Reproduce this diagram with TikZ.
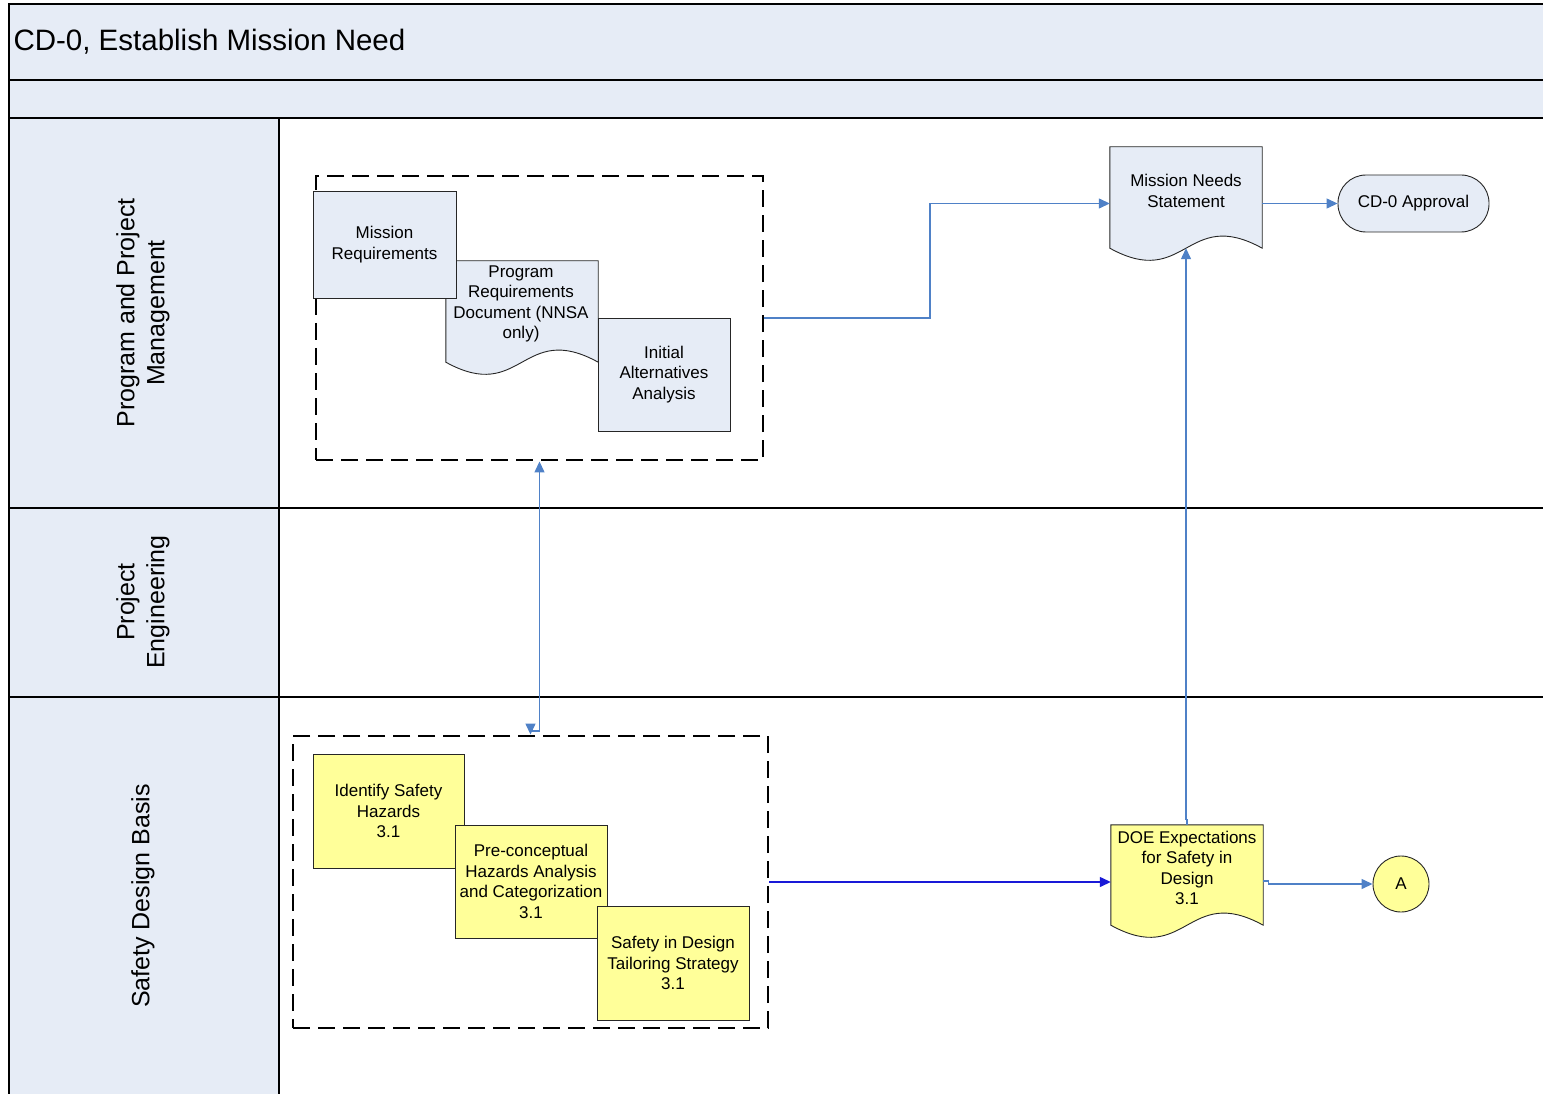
\documentclass[tikz,border=0pt]{standalone}
\usepackage{fontspec}
\setmainfont{Liberation Sans}
\usetikzlibrary{arrows.meta,calc}
\definecolor{lblue}{RGB}{230,236,246}
\definecolor{lyel}{RGB}{255,255,153}
\definecolor{cblue}{RGB}{79,129,199}
\definecolor{dblue}{RGB}{25,25,215}
\begin{document}
\begin{tikzpicture}[x=1pt,y=-1pt,
  boxtext/.style={font=\fontsize{17}{20.5}\selectfont, align=center},
  pbox/.style={draw=black!85, fill=lblue, line width=0.9pt, inner sep=0pt, boxtext},
  ybox/.style={draw=black!85, fill=lyel, line width=0.9pt, inner sep=0pt, boxtext},
  ghost/.style={draw=none, inner sep=0pt},
  docp/.style={draw=black!85, fill=lblue, line width=0.9pt},
  docy/.style={draw=black!85, fill=lyel, line width=0.9pt},
  grp/.style={draw=black, line width=2.9pt, dash pattern=on 17pt off 8pt, inner sep=0pt},
  conn/.style={draw=cblue, line width=1.3pt, -{Triangle[length=11pt,width=10pt]}},
  lane/.style={draw=black, line width=1.1pt},
  lanelabel/.style={font=\fontsize{25}{30}\selectfont, align=center, rotate=90}]

\useasboundingbox (0,0) rectangle (1543,1094);
% swimlane frame
\fill[lblue] (9,4) rectangle (1543,118);
\fill[lblue] (9,118) rectangle (279,1094);
\draw[lane] (9,1094) -- (9,4) -- (1543,4);
\draw[lane] (9,80) -- (1543,80);
\draw[lane] (9,118) -- (1543,118);
\draw[lane] (9,508) -- (1543,508);
\draw[lane] (9,697) -- (1543,697);
\draw[lane] (279,118) -- (279,1094);

\node[anchor=west, font=\fontsize{29.5}{34}\selectfont] (title) at (10,42) {CD-0, Establish Mission Need};

\node[lanelabel] (lane1) at (143,313) {Program and Project\\Management};
\node[lanelabel] (lane2) at (143,602) {Project\\Engineering};
\node[lanelabel] (lane3) at (143,896) {Safety Design Basis};

% top group
\node[grp, minimum width=447, minimum height=284] (topgrp) at (539.5,318) {};
\node[ghost, minimum width=152, minimum height=101] (prd) at (522,311.5) {};
\filldraw[docp] (prd.north west) -- (prd.north east) -- (prd.south east)
  .. controls ($(prd.south)+(0,-42)$) and ($(prd.south)+(0,42)$) .. (prd.south west) -- cycle;
\node[boxtext] (prdt) at (521,304) {Program\\Requirements\\Document (NNSA\\only)};
\node[pbox, minimum width=143, minimum height=107] (mr) at (384.5,244.5) {Mission\\Requirements};
\node[pbox, minimum width=132, minimum height=113] (iaa) at (664,374.5) {Initial\\Alternatives\\Analysis};

% mission needs statement
\node[ghost, minimum width=152, minimum height=101] (mns) at (1186,197.5) {};
\filldraw[docp] (mns.north west) -- (mns.north east) -- (mns.south east)
  .. controls ($(mns.south)+(0,-42)$) and ($(mns.south)+(0,42)$) .. (mns.south west) -- cycle;
\node[boxtext] (mnst) at (1186,191) {Mission Needs\\Statement};
\node[pbox, rounded corners=28pt, minimum width=151, minimum height=57] (cd0) at (1413.5,203.5) {CD-0 Approval};

% bottom group
\node[grp, minimum width=475, minimum height=292] (botgrp) at (530.5,882) {};
\node[ybox, minimum width=151, minimum height=114] (ish) at (388.5,811) {Identify Safety\\Hazards\\3.1};
\node[ybox, minimum width=152, minimum height=113] (pha) at (531,881.5) {Pre-conceptual\\Hazards Analysis\\and Categorization\\3.1};
\node[ybox, minimum width=152, minimum height=114] (sdt) at (673,963) {Safety in Design\\Tailoring Strategy\\3.1};

% DOE expectations
\node[ghost, minimum width=152, minimum height=100] (doe) at (1187,875) {};
\filldraw[docy] (doe.north west) -- (doe.north east) -- (doe.south east)
  .. controls ($(doe.south)+(0,-42)$) and ($(doe.south)+(0,42)$) .. (doe.south west) -- cycle;
\node[boxtext] (doet) at (1187,868) {DOE Expectations\\for Safety in\\Design\\3.1};
\node[circle, draw=black!85, fill=lyel, line width=0.9pt, minimum size=56pt, inner sep=0pt, boxtext] (a) at (1401,884) {A};

% connectors
\draw[conn] (topgrp.east) -- (930,318) -- (930,203.5) -- (mns.west |- cd0.west);
\draw[conn] (cd0.west -| mns.east) -- (cd0.west);
\draw[conn, {Triangle[length=11pt,width=10pt]}-{Triangle[length=11pt,width=10pt]}]
  (topgrp.south) -- (topgrp.south |- 0,731) -- (530.5,731) -- (botgrp.north);
\draw[conn, draw=dblue] (botgrp.east) -- (doe.west |- botgrp.east);
\draw[conn] (doe.north) -- ++(0,-5) -| (mns.south);
\draw[conn] ($(doe.east)+(0,6)$) -- ++(5,0) |- (a.west);
\end{tikzpicture}
\end{document}
